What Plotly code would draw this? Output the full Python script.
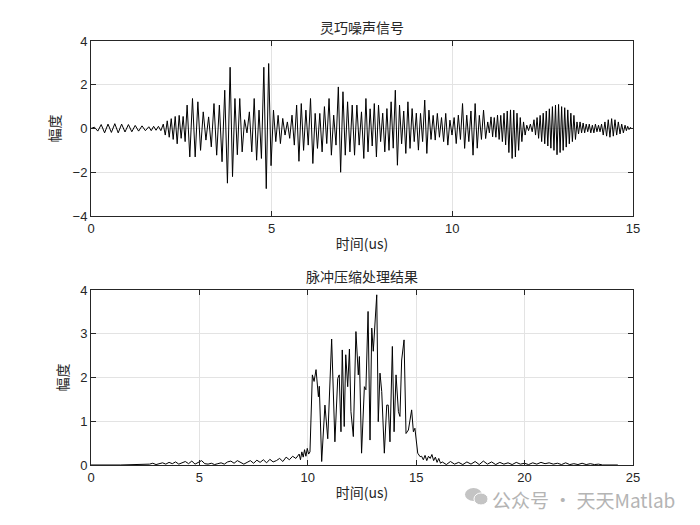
import numpy as np
import plotly.graph_objects as go
from plotly.subplots import make_subplots

# ---- top panel: agile noise signal, extrema, per time segment (us)
noise_segments = [
    (0.00, 1.60, [0, 0.06, -0.12, 0.18, -0.2, 0.2, -0.18, 0.22, -0.2, 0.2, -0.16, 0.18,
                  -0.15, 0.14, -0.12, 0.12, -0.1]),
    (1.60, 2.00, [0.08, -0.1, 0.1, -0.08, 0.1, -0.1]),
    (2.00, 2.66, [0.2, -0.3, 0.35, -0.4, 0.45, -0.5, 0.55, -0.7, 0.6, -0.45, 0.55, -0.6]),
    (2.66, 3.85, [1.07, -1.3, 1.37, -1.3, 1.22, -1.0, 0.76, -0.53, 0.53, -0.84, 1.14, -1.22,
                  1.07, -1.52, 1.75, -2.5]),
    (3.85, 5.05, [2.8, -2.2, 1.37, -1.2, 1.37, -1.07, 0.4, -0.2, 0.76, -1.07, 1.37, -1.45,
                  0.84, -1.37, 2.8, -2.75, 2.97, -1.7]),
    (5.05, 7.55, [0.84, -0.6, 0.6, -0.69, 0.46, -0.3, 0.3, -0.45, 0.61, -0.76, 1.07, -1.5,
                  1.14, -1.0, 0.84, -0.76, 1.37, -1.6, 0.69, -0.91, 0.69, -1.07, 1.0, -0.69,
                  1.37, -1.22, 0.61, -0.76, 1.9, -2.0, 1.68, -1.22, 1.22, -1.07, 1.07, -1.22,
                  1.07, -0.76, 0.76]),
    (7.55, 10.98, [-1.37, 1.37, -1.07, 0.9, -0.8, 1.14, -1.3, 1.07, -0.6, 0.7, -1.07, 0.91,
                   -1.0, 1.22, -0.9, 1.75, -1.68, 1.07, -0.7, 0.8, -1.14, 1.22, -0.91, 0.91,
                   -0.6, 0.7, -0.99, 0.69, -0.6, 1.3, -1.14, 0.84, -0.5, 0.6, -0.53, 0.69,
                   -0.4, 0.5, -0.6, 0.69, -0.76, 0.38, -0.3, 0.5, -0.69, 0.61, -0.5, 1.14,
                   -0.91, 0.61, -0.6, 0.8, -1.22, 1.14, -0.9, 0.6, -0.5, 0.84, -0.46]),
    (10.98, 12.06, [0.3, -0.2, 0.53, -0.38, 0.5, -0.4, 0.61, -0.5, 0.6, -0.6, 0.7, -0.75,
                    0.8, -1.1, 0.85, -1.37, 0.84, -1.3, 0.7, -1.0, 0.5, -0.6, 0.3, -0.3]),
    (12.06, 12.26, [0.15, -0.1, 0.2, -0.15]),
    (12.26, 13.45, [0.4, -0.3, 0.5, -0.45, 0.6, -0.6, 0.7, -0.7, 0.8, -0.8, 0.9, -0.9,
                    1.0, -1.0, 1.07, -1.2, 1.1, -1.1, 1.0, -1.0, 0.95, -0.85, 0.85, -0.7,
                    0.7, -0.6, 0.6, -0.5]),
    (13.45, 14.13, [0.3, -0.25, 0.3, -0.2, 0.25, -0.2, 0.2, -0.15, 0.2, -0.2, 0.15, -0.2,
                    0.2, -0.15, 0.15, -0.15]),
    (14.13, 14.78, [0.2, -0.3, 0.3, -0.35, 0.4, -0.4, 0.45, -0.35, 0.4, -0.3, 0.3, -0.25,
                    0.2, -0.2]),
    (14.78, 15.00, [0.15, -0.1, 0.1, -0.05, 0.05, 0.0]),
]

# ---- bottom panel: pulse compression output
pc_floor_segments = [
    (0.0, 2.7, [0.0, 0.0]),
    (2.7, 9.6, [0.02, 0.04, 0.01, 0.03, 0.05, 0.02, 0.06, 0.03, 0.07, 0.02, 0.05, 0.08,
                0.03, 0.09, 0.02, 0.06, 0.1, 0.03, 0.02, 0.04, 0.01, 0.03, 0.05, 0.02,
                0.07, 0.09, 0.04, 0.1, 0.05, 0.02, 0.06, 0.1, 0.04, 0.11, 0.06, 0.12,
                0.05, 0.13, 0.07, 0.1, 0.15, 0.08, 0.18, 0.12, 0.2, 0.15]),
    (9.6, 10.1, [0.25, 0.12, 0.3, 0.18, 0.35, 0.2, 0.38, 0.25]),
]
pc_main_t = [10.10, 10.21, 10.29, 10.38, 10.49, 10.53, 10.64, 10.79, 10.92, 11.10, 11.25,
             11.38, 11.45, 11.53, 11.59, 11.68, 11.75, 11.84, 11.92, 11.99, 12.10, 12.22,
             12.33, 12.38, 12.48, 12.61, 12.68, 12.78, 12.87, 12.95, 13.02, 13.10, 13.18,
             13.25, 13.33, 13.41, 13.53, 13.64, 13.71, 13.79, 13.90, 13.98, 14.07, 14.18,
             14.25, 14.33, 14.44, 14.53, 14.64, 14.79, 14.87, 14.94, 15.02, 15.07, 15.18]
pc_main_amp = [0.3, 2.06, 1.91, 2.18, 1.56, 1.8, 0.08, 1.37, 0.6, 2.88, 0.53,
               1.98, 2.06, 0.76, 2.63, 0.88, 2.52, 1.79, 2.65, 1.22, 0.65, 3.05,
               2.06, 2.48, 0.27, 1.79, 1.72, 3.51, 0.57, 3.13, 2.6, 3.36, 3.89,
               0.99, 2.1, 1.68, 0.27, 1.37, 1.37, 0.53, 2.71, 0.76, 2.06, 1.22,
               1.11, 2.4, 2.86, 0.72, 0.8, 1.26, 0.76, 0.84, 0.38, 0.27, 0.19]
pc_tail_segments = [
    (15.25, 16.2, [0.2, 0.12, 0.22, 0.1, 0.2, 0.15, 0.24, 0.1, 0.18, 0.06, 0.15, 0.04]),
    (16.2, 23.6, [0.07, 0.01, 0.08, 0.02, 0.06, 0.01, 0.07, 0.02, 0.08, 0.01, 0.09, 0.02,
                  0.07, 0.01, 0.06, 0.02, 0.05, 0.01, 0.06, 0.02, 0.04, 0.01, 0.05, 0.02,
                  0.06, 0.03, 0.05, 0.02, 0.04, 0.01, 0.05, 0.01, 0.03, 0.01, 0.04, 0.01,
                  0.03, 0.01, 0.02]),
    (23.6, 25.0, [0.0, 0.0]),
]


def build(segments):
    t, v = [], []
    for t0, t1, vals in segments:
        t.extend(np.linspace(t0, t1, len(vals), endpoint=False))
        v.extend(vals)
    return t, v


noise_t, noise_amp = build(noise_segments)
noise_t.append(15.0)
noise_amp.append(0.0)

f_t, f_amp = build(pc_floor_segments)
tl_t, tl_amp = build(pc_tail_segments)
pc_t = f_t + pc_main_t + tl_t
pc_amp = f_amp + pc_main_amp + tl_amp

fig = make_subplots(rows=2, cols=1, vertical_spacing=0.1746)
fig.add_trace(go.Scatter(x=noise_t, y=noise_amp, mode="lines",
                         line=dict(color="black", width=1)), row=1, col=1)
fig.add_trace(go.Scatter(x=pc_t, y=pc_amp, mode="lines",
                         line=dict(color="black", width=1)), row=2, col=1)

axis_style = dict(showline=True, linecolor="#262626", linewidth=1, mirror="allticks",
                  ticks="inside", ticklen=5, tickcolor="#262626",
                  showgrid=True, gridcolor="#e3e3e3", gridwidth=1, zeroline=False,
                  automargin=False,
                  tickfont=dict(family="Liberation Sans, Arial", size=13, color="#262626"))
cjk = dict(family="Noto Sans CJK SC", size=14, color="#262626")

fig.update_xaxes(axis_style)
fig.update_yaxes(axis_style)
fig.update_xaxes(range=[0, 15], tickvals=[0, 5, 10, 15], row=1, col=1,
                 title=dict(text="时间(us)", font=cjk, standoff=4))
fig.update_yaxes(range=[-4, 4], tickvals=[-4, -2, 0, 2, 4], row=1, col=1,
                 title=dict(text="幅度", font=cjk, standoff=8))
fig.update_xaxes(range=[0, 25], tickvals=[0, 5, 10, 15, 20, 25], row=2, col=1,
                 title=dict(text="时间(us)", font=cjk, standoff=4))
fig.update_yaxes(range=[0, 4], tickvals=[0, 1, 2, 3, 4], row=2, col=1,
                 title=dict(text="幅度", font=cjk, standoff=8))

fig.add_annotation(text="灵巧噪声信号", x=0.5, y=1.0, xref="x domain", yref="y domain",
                   yanchor="bottom", showarrow=False, font=cjk, yshift=2)
fig.add_annotation(text="脉冲压缩处理结果", x=0.5, y=1.0, xref="x2 domain", yref="y2 domain",
                   yanchor="bottom", showarrow=False, font=cjk, yshift=2)

# watermark (paper coords relative to the plot area 91..633 x 41..465)
fig.add_annotation(text="公众号 · 天天Matlab", x=1.082, y=-0.082, xref="paper", yref="paper",
                   xanchor="right", yanchor="middle", showarrow=False,
                   font=dict(family="Noto Sans CJK SC", size=19, color="#b4b4b4"))
fig.add_shape(type="circle", xref="paper", yref="paper", x0=0.690, x1=0.7214, y0=-0.0849,
              y1=-0.0542, fillcolor="#c4c4c4", line_width=0)
fig.add_shape(type="circle", xref="paper", yref="paper", x0=0.7066, x1=0.7325, y0=-0.0943,
              y1=-0.066, fillcolor="#c4c4c4", line=dict(color="white", width=1))

fig.update_layout(width=700, height=525, showlegend=False,
                  margin=dict(l=91, r=67, t=41, b=60),
                  paper_bgcolor="white", plot_bgcolor="white")
fig.write_html("out.html", config={"displayModeBar": False},
               post_script="document.body.style.margin='0px';")
